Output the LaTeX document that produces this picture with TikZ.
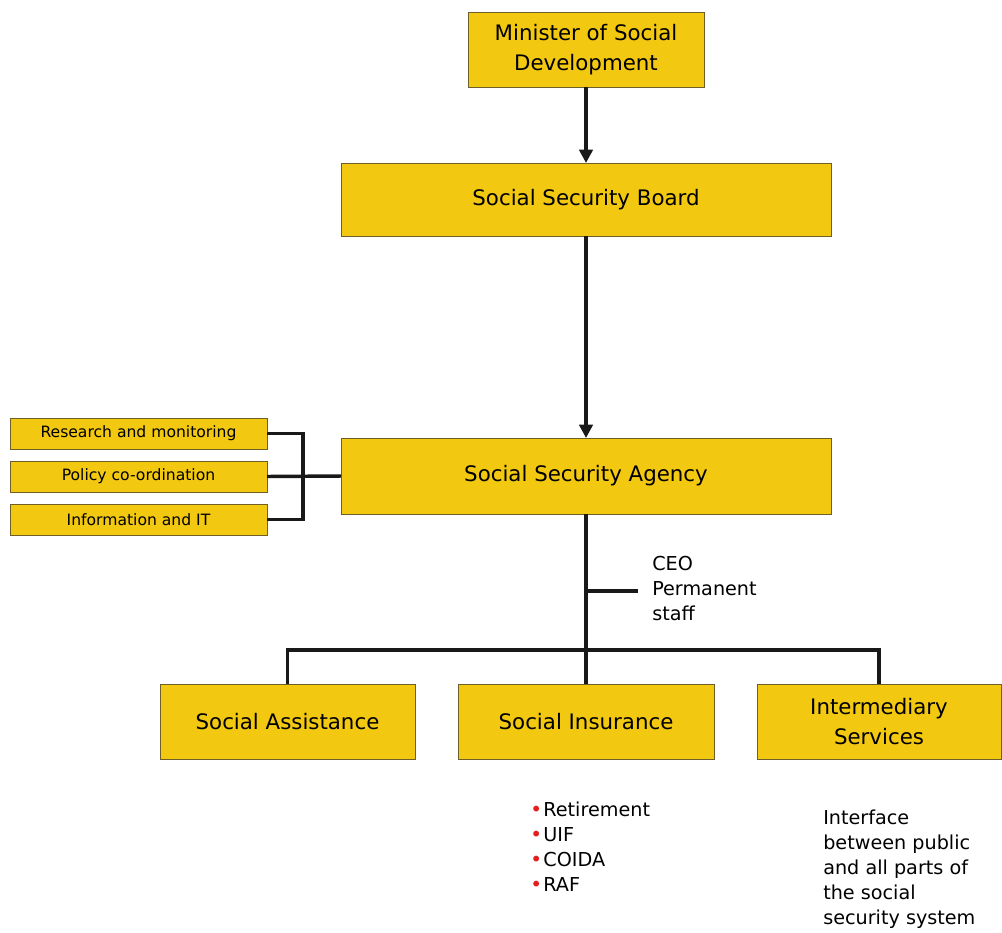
\documentclass[tikz,border=0pt]{standalone}
\usepackage{fontspec}
\setmainfont{DejaVu Sans}
\usetikzlibrary{arrows.meta,positioning}
\definecolor{ssyellow}{RGB}{242,200,16}
\definecolor{ssedge}{RGB}{110,95,40}
\definecolor{ssred}{RGB}{228,30,30}
\newcommand{\redbullet}{\textcolor{ssred}{\fontsize{15}{10}\selectfont\textbullet}\hspace{1pt}}

\begin{document}
\begin{tikzpicture}[x=0.75pt,y=-0.75pt,
  orgbox/.style={draw=ssedge, line width=0.6pt, fill=ssyellow, inner sep=0pt,
    outer sep=0pt, align=center, font=\fontsize{16}{22.5}\selectfont},
  sidebox/.style={orgbox, minimum width=192.75pt, minimum height=23.25pt,
    font=\fontsize{11.7}{14}\selectfont},
  link/.style={line width=2.6pt, black!90},
  arr/.style={link, -{Triangle[length=10pt,width=10pt]}},
  note/.style={align=left, anchor=north west, inner sep=0pt,
    font=\fontsize{14.4}{18.75}\selectfont}]
\useasboundingbox (0,0) rectangle (1002,932);
% Top of the hierarchy
\node[orgbox, minimum width=177pt, minimum height=56.25pt] (minister) at (586,49.5) {Minister of Social\\Development};
\node[orgbox, minimum width=367.5pt, minimum height=54.75pt] (board) at (586,199.5) {Social Security Board};
\node[orgbox, minimum width=367.5pt, minimum height=57pt] (agency) at (586,476) {Social Security Agency};
% Support units
\node[sidebox] (research) at (138.5,433.5) {Research and monitoring};
\node[sidebox] (policy) at (138.5,476.5) {Policy co-ordination};
\node[sidebox] (info) at (138.5,519.5) {Information and IT};
% Branches
\node[orgbox, minimum width=191.25pt, minimum height=56.25pt] (assist) at (287.5,721.5) {Social Assistance};
\node[orgbox, minimum width=192pt, minimum height=56.25pt] (insur) at (586,721.5) {Social Insurance};
\node[orgbox, minimum width=183pt, minimum height=56.25pt] (interm) at (879,721.5) {Intermediary\\Services};
% Arrows
\draw[arr] (minister.south) -- (board.north);
\draw[arr] (board.south) -- (agency.north);
% Bracket to the agency
\draw[link] (research.east) -- ++(36,0) |- (info.east);
\draw[link] (policy.east) -- (agency.west);
% Down to the branches
\coordinate (bus) at (586,650);
\coordinate (ceotip) at (638,591);
\draw[link] (agency.south) -- (bus) -- (insur.north);
\draw[link] (ceotip) -- (ceotip -| agency.south);
\draw[link] (assist.north) |- (bus) -| (interm.north);
\node[note] (ceo) at (652,556) {CEO\\Permanent\\staff};
% Notes under the branches
\node[note] (schemes) at (530,802) {\redbullet Retirement\\\redbullet UIF\\\redbullet COIDA\\\redbullet RAF};
\node[note] (iface) at (823,810) {Interface\\between public\\and all parts of\\the social\\security system};
\end{tikzpicture}
\end{document}
